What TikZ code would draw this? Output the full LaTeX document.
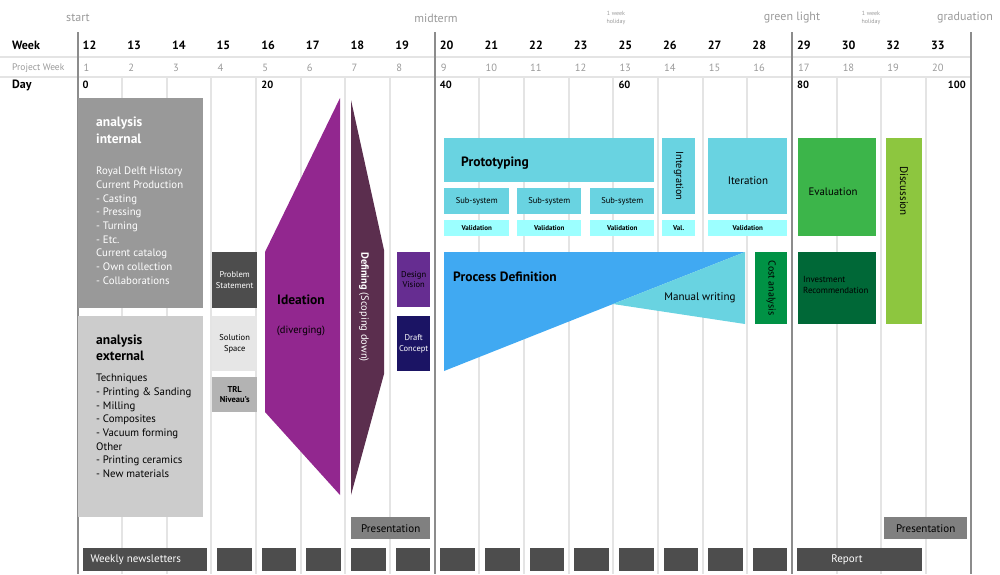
\documentclass[tikz,border=0pt]{standalone}
\usepackage{fontspec}
\setmainfont{PT Sans}
\usepackage{color}
\usetikzlibrary{positioning}
\definecolor{gridline}{HTML}{E4E4E4}
\definecolor{milestone}{HTML}{8C8C8C}
\definecolor{labelgray}{HTML}{9A9A9A}
\definecolor{darkbox}{HTML}{4D4D4D}
\definecolor{presgray}{HTML}{808080}
\definecolor{internal}{HTML}{999999}
\definecolor{external}{HTML}{CCCCCC}
\definecolor{solution}{HTML}{E6E6E6}
\definecolor{trl}{HTML}{B3B3B3}
\definecolor{ideation}{HTML}{92278F}
\definecolor{defining}{HTML}{5B2E4E}
\definecolor{vision}{HTML}{662D91}
\definecolor{concept}{HTML}{1B1464}
\definecolor{proto}{HTML}{69D3E1}
\definecolor{valid}{HTML}{9CFFFF}
\definecolor{process}{HTML}{40A9F2}
\definecolor{cost}{HTML}{009245}
\definecolor{evaluation}{HTML}{3CB54A}
\definecolor{invest}{HTML}{006837}
\definecolor{discussion}{HTML}{8DC63F}
\def\xo{77.5}
\def\colw{44.65}
\tikzset{
	block/.style={rectangle, anchor=north west, inner sep=0pt, align=center},
	deliverable/.style={block, fill=darkbox, text=white, minimum height=23, font=\fontsize{11}{12}\selectfont},
	presbox/.style={block, fill=presgray, minimum height=22, font=\fontsize{11}{12}\selectfont},
	smallbox/.style={block, minimum width=45, font=\fontsize{8.5}{10.5}\selectfont},
	subbox/.style={block, fill=proto, minimum height=26, font=\fontsize{8.5}{10}\selectfont},
	validbox/.style={block, fill=valid, minimum height=16, font=\fontsize{7}{8}\selectfont\bfseries},
	milestonelabel/.style={text=labelgray, font=\fontsize{12}{14}\selectfont},
	holiday/.style={text=labelgray, align=center, font=\fontsize{6}{8}\selectfont},
	rowlabel/.style={anchor=west, inner sep=0pt},
	phasetitle/.style={inner sep=0pt, font=\fontsize{13.5}{16}\selectfont\bfseries},
	listtext/.style={anchor=north west, inner sep=0pt, align=left, font=\fontsize{10.8}{13.65}\selectfont}
}

\begin{document}
\begin{tikzpicture}[x=1pt, y=-1pt]
\useasboundingbox (0,0) rectangle (1000,574);

\node[milestonelabel] (start) at (78,18) {start};
\node[milestonelabel] (midterm) at (436,18) {midterm};
\node[milestonelabel] (greenlight) at (792,18) {green light};
\node[milestonelabel] (graduation) at (965,18) {graduation};
\node[holiday] (holidayA) at (616,18) {1 week\\holiday};
\node[holiday] (holidayB) at (871,18) {1 week\\holiday};

\draw[gridline, line width=1.5] (0,57) -- (971,57);
\draw[gridline, line width=1.5] (0,77) -- (971,77);
\foreach \k in {1,...,7,9,10,...,15,17,18,19}
	\draw[gridline, line width=2] ({\xo+\colw*\k},77) -- ({\xo+\colw*\k},574);
\foreach \k in {0,8,16,20}
	\draw[milestone, line width=2] ({\xo+\colw*\k},32) -- ({\xo+\colw*\k},574);

\node[rowlabel, font=\fontsize{12}{14}\selectfont\bfseries] (week) at (12,45) {Week};
\node[rowlabel, text=labelgray, font=\fontsize{9.5}{11}\selectfont] (projweek) at (12,68) {Project Week};
\node[rowlabel, font=\fontsize{12}{14}\selectfont\bfseries] (day) at (12,85) {Day};
\foreach \w [count=\i from 0] in {12,13,14,15,16,17,18,19,20,21,22,23,25,26,27,28,29,30,32,33}
{
	\node[rowlabel, font=\fontsize{12}{14}\selectfont\bfseries] (wk\i) at ({\xo+\colw*\i+5},45) {\w};
	\pgfmathtruncatemacro\p{\i+1}
	\node[rowlabel, text=labelgray, font=\fontsize{10.5}{12}\selectfont] (pw\i) at ({\xo+\colw*\i+6},68) {\p};
}
\foreach \d [count=\i from 0] in {0,20,40,60,80}
	\node[rowlabel, font=\fontsize{10.5}{12}\selectfont\bfseries] (day\d) at ({\xo+\colw*4*\i+5},85) {\d};
\node[rowlabel, anchor=east, font=\fontsize{10.5}{12}\selectfont\bfseries] (day100) at (966,85) {100};

\node[block, fill=internal, minimum width=125, minimum height=210] (intern) at (78,98) {};
\node[phasetitle, anchor=north west, align=left, text=white, font=\fontsize{13.5}{16.5}\selectfont\bfseries] (internTitle) at ([shift={(18,19)}]intern.north west) {analysis\\internal};
\node[listtext, text=white] (internList) at ([shift={(18,69)}]intern.north west)
	{Royal Delft History\\Current Production\\- Casting\\- Pressing\\- Turning\\- Etc.\\Current catalog\\- Own collection\\- Collaborations};

\node[block, fill=external, minimum width=125, minimum height=201] (extern) at (78,316) {};
\node[phasetitle, anchor=north west, align=left, font=\fontsize{13.5}{15.5}\selectfont\bfseries] (externTitle) at ([shift={(18,19)}]extern.north west) {analysis\\external};
\node[listtext] (externList) at ([shift={(18,58)}]extern.north west)
	{Techniques\\- Printing \& Sanding\\- Milling\\- Composites\\- Vacuum forming\\Other\\- Printing ceramics\\- New materials};

\node[smallbox, fill=darkbox, text=white, minimum height=56] (problem) at (212,252) {Problem\\Statement};
\node[smallbox, fill=solution, minimum height=55] (solution) at (212,316) {Solution\\Space};
\node[smallbox, fill=trl, minimum height=35, font=\fontsize{8.5}{10.5}\selectfont\bfseries] (trl) at (212,377) {TRL\\Niveau's};

\fill[ideation] (340,98) -- (265,252) -- (265,412) -- (340,495) -- cycle;
\node[phasetitle] (ideationLabel) at (301,300) {Ideation};
\node[font=\fontsize{10.5}{12}\selectfont] (diverging) at (301,331) {(diverging)};

\fill[defining] (351,100) -- (384,250) -- (384,374) -- (351,495) -- cycle;
\node[rotate=-90, text=white, font=\fontsize{10.5}{12}\selectfont] (definingLabel) at (364,307) {\textbf{Defining} (Scoping down)};

\node[smallbox, fill=vision, minimum width=33, minimum height=55] (vision) at (397,252) {Design\\Vision};
\node[smallbox, fill=concept, text=white, minimum width=33, minimum height=55] (concept) at (397,316) {Draft\\Concept};
\node[presbox, minimum width=79] (presA) at (351,517) {Presentation};

\node[block, fill=proto, minimum width=210, minimum height=44] (proto) at (444,138) {};
\node[phasetitle, anchor=west] (protoLabel) at (461,163) {Prototyping};
\node[subbox, minimum width=65] (subA) at (444,188) {Sub-system};
\node[subbox, minimum width=64] (subB) at (517,188) {Sub-system};
\node[subbox, minimum width=64] (subC) at (590,188) {Sub-system};
\node[validbox, minimum width=65] (valA) at (444,220) {Validation};
\node[validbox, minimum width=64] (valB) at (517,220) {Validation};
\node[validbox, minimum width=64] (valC) at (590,220) {Validation};

\node[block, fill=proto, minimum width=33, minimum height=76] (integ) at (662,138) {};
\node[rotate=-90, font=\fontsize{10.3}{12}\selectfont] (integLabel) at (integ.center) {Integration};
\node[validbox, minimum width=33] (valD) at (662,220) {Val.};
\node[block, fill=proto, minimum width=79, minimum height=76] (iter) at (708,138) {};
\node[font=\fontsize{11}{12}\selectfont] (iterLabel) at (748,181) {Iteration};
\node[validbox, minimum width=79] (valE) at (708,220) {Validation};

\fill[process] (444,252) -- (745,252) -- (613,304) -- (444,371) -- cycle;
\fill[proto] (745,252) -- (745,324) -- (613,304) -- cycle;
\node[phasetitle, anchor=west] (processLabel) at (453,277) {Process Definition};
\node[font=\fontsize{11}{12}\selectfont] (manual) at (700,298) {Manual writing};

\node[block, fill=cost, minimum width=32, minimum height=72] (cost) at (755,252) {};
\node[rotate=-90, font=\fontsize{10}{12}\selectfont] (costLabel) at (cost.center) {Cost analysis};

\node[block, fill=evaluation, minimum width=78, minimum height=98] (eval) at (798,138) {};
\node[font=\fontsize{10.8}{12}\selectfont] (evalLabel) at (833,192) {Evaluation};
\node[block, fill=invest, minimum width=78, minimum height=72] (invest) at (798,252) {};
\node[anchor=west, inner sep=0pt, align=left, font=\fontsize{8.8}{10.5}\selectfont] (investLabel) at (803,285) {Investment\\Recommendation};
\node[block, fill=discussion, minimum width=36, minimum height=186] (disc) at (886,138) {};
\node[rotate=-90, font=\fontsize{11}{12}\selectfont] (discLabel) at (904,191) {Discussion};
\node[presbox, minimum width=83] (presB) at (884,517) {Presentation};

\node[deliverable, minimum width=124] (news) at (83,548) {};
\node[anchor=west, text=white, font=\fontsize{11}{12}\selectfont] (newsLabel) at (87,559.5) {Weekly newsletters};
\foreach \k in {3,...,15}
	\node[deliverable, minimum width=34.5] (letter\k) at ({\xo+\colw*\k+5.5},548) {};
\node[deliverable, minimum width=125] (report) at (797,548) {};
\node[text=white, font=\fontsize{11}{12}\selectfont] (reportLabel) at (847,559.5) {Report};

\end{tikzpicture}
\end{document}
